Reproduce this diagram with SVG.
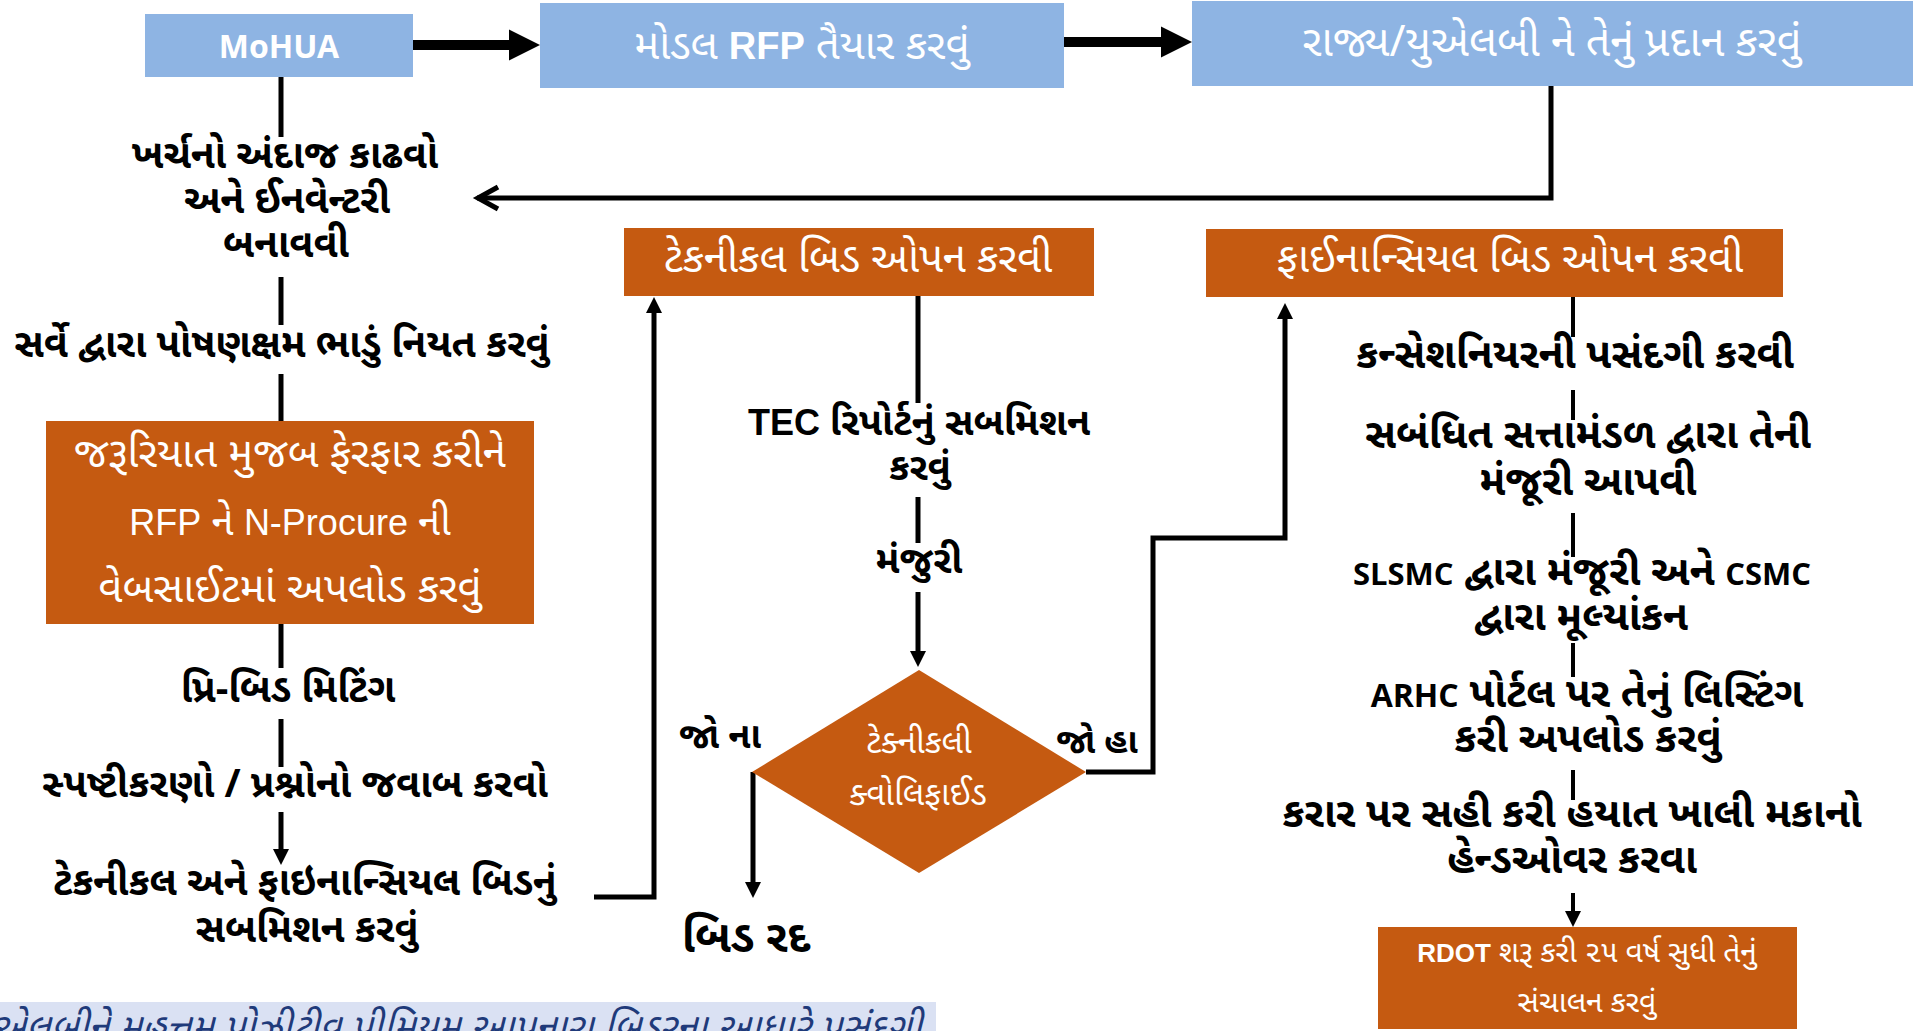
<svg xmlns="http://www.w3.org/2000/svg" width="1922" height="1031" viewBox="0 0 1922 1031">
<style>
.blue{fill:#8eb4e3}
.orange{fill:#c55a11}
.wt{fill:#ffffff;font-family:"Noto Sans Gujarati","Noto Sans","Liberation Sans",sans-serif;text-anchor:middle}
.bt{fill:#000000;font-family:"Noto Sans Gujarati","Noto Sans","Liberation Sans",sans-serif;text-anchor:middle;font-weight:bold}
.lat{font-family:"Liberation Sans",sans-serif}
.ln{stroke:#000;stroke-width:5;fill:none}
.ln4{stroke:#000;stroke-width:4;fill:none}
.big{stroke:#000;stroke-width:10;fill:none}
</style>
<defs>
<marker id="bigHead" markerUnits="userSpaceOnUse" markerWidth="32" markerHeight="32" refX="0" refY="15.5" orient="auto" overflow="visible">
<path d="M0,0 L31,15.5 L0,31 Z" fill="#000"/>
</marker>
<marker id="head" markerUnits="userSpaceOnUse" markerWidth="18" markerHeight="18" refX="1" refY="8" orient="auto" overflow="visible">
<path d="M0,0 L16,8 L0,16 Z" fill="#000"/>
</marker>
<marker id="chev" markerUnits="userSpaceOnUse" markerWidth="26" markerHeight="26" refX="1" refY="11" orient="auto" overflow="visible">
<path d="M-20,0 L0,11 L-20,22" fill="none" stroke="#000" stroke-width="5" stroke-linejoin="miter"/>
</marker>
</defs>
<rect width="1922" height="1031" fill="#ffffff"/>

<g id="connectors">
<line class="big" x1="413" y1="45" x2="509" y2="45" marker-end="url(#bigHead)"/>
<line class="big" x1="1064" y1="42" x2="1161" y2="42" marker-end="url(#bigHead)"/>
<polyline class="ln" points="1551,86 1551,198 477,198" marker-end="url(#chev)"/>
<line class="ln" x1="281" y1="77" x2="281" y2="137"/>
<line class="ln" x1="281" y1="277" x2="281" y2="325"/>
<line class="ln" x1="281" y1="374" x2="281" y2="421"/>
<line class="ln" x1="281" y1="624" x2="281" y2="668"/>
<line class="ln" x1="281" y1="719" x2="281" y2="767"/>
<line class="ln" x1="281" y1="812" x2="281" y2="850" marker-end="url(#head)"/>
<polyline class="ln" points="594,897 654,897 654,312" marker-end="url(#head)"/>
<line class="ln" x1="918" y1="296" x2="918" y2="403"/>
<line class="ln" x1="918" y1="497" x2="918" y2="543"/>
<line class="ln" x1="918" y1="592" x2="918" y2="652" marker-end="url(#head)"/>
<polyline class="ln" points="753,772 753,883" marker-end="url(#head)"/>
<polyline class="ln" points="1086,772 1153,772 1153,538 1285,538 1285,318" marker-end="url(#head)"/>
<line class="ln4" x1="1573" y1="297" x2="1573" y2="337"/>
<line class="ln4" x1="1573" y1="390" x2="1573" y2="420"/>
<line class="ln4" x1="1573" y1="513" x2="1573" y2="557"/>
<line class="ln4" x1="1573" y1="643" x2="1573" y2="677"/>
<line class="ln4" x1="1573" y1="770" x2="1573" y2="800"/>
<line class="ln4" x1="1573" y1="893" x2="1573" y2="912" marker-end="url(#head)"/>
</g>

<g id="mohua">
<rect class="blue" x="145" y="14" width="268" height="63"/>
<text class="wt" x="279" y="58" font-size="32" font-weight="bold">MoHUA</text>
</g>
<g id="model-rfp">
<rect class="blue" x="540" y="3" width="524" height="85"/>
<text class="wt" x="802" y="59" font-size="42">મોડલ <tspan font-weight="bold" class="lat" font-size="38">RFP</tspan> તૈયાર કરવું</text>
</g>
<g id="state-ulb">
<rect class="blue" x="1192" y="1" width="721" height="85"/>
<text class="wt" x="1552" y="56" font-size="43">રાજ્ય/યુએલબી ને તેનું પ્રદાન કરવું</text>
</g>
<g id="cost-estimate">
<text class="bt" font-size="39"><tspan x="285" y="168">ખર્ચનો અંદાજ કાઢવો</tspan><tspan x="287" y="213">અને ઈનવેન્ટરી</tspan><tspan x="286" y="257">બનાવવી</tspan></text>
</g>
<g id="survey-rent">
<text class="bt" x="282" y="357" font-size="39">સર્વે દ્વારા પોષણક્ષમ ભાડું નિયત કરવું</text>
</g>
<g id="rfp-upload">
<rect class="orange" x="46" y="421" width="488" height="203"/>
<text class="wt" x="290" y="467" font-size="42">જરૂરિયાત મુજબ ફેરફાર કરીને</text>
<text class="wt" x="290" y="535" font-size="40"><tspan class="lat" font-size="36">RFP</tspan> ને <tspan class="lat" font-size="36">N-Procure</tspan> ની</text>
<text class="wt" x="290" y="602" font-size="42">વેબસાઈટમાં અપલોડ કરવું</text>
</g>
<g id="pre-bid">
<text class="bt" x="288" y="702" font-size="39">પ્રિ-બિડ મિટિંગ</text>
</g>
<g id="clarifications">
<text class="bt" x="295" y="797" font-size="39">સ્પષ્ટીકરણો / પ્રશ્નોનો જવાબ કરવો</text>
</g>
<g id="bid-submission">
<text class="bt" font-size="39"><tspan x="305" y="895">ટેકનીકલ અને ફાઇનાન્સિયલ બિડનું</tspan><tspan x="307" y="942">સબમિશન કરવું</tspan></text>
</g>
<g id="tech-open">
<rect class="orange" x="624" y="228" width="470" height="68"/>
<text class="wt" x="858" y="272" font-size="42">ટેકનીકલ બિડ ઓપન કરવી</text>
</g>
<g id="tec-report">
<text class="bt" font-size="38" font-weight="normal"><tspan x="919" y="435"><tspan font-weight="bold" class="lat" font-size="36">TEC</tspan> રિપોર્ટનું સબમિશન</tspan><tspan x="920" y="480">કરવું</tspan></text>
</g>
<g id="approval">
<text class="bt" x="919" y="573" font-size="38" font-weight="normal">મંજુરી</text>
</g>
<g id="tech-qualified">
<polygon class="orange" points="919,670 1086,772 919,873 752,772"/>
<text class="wt" font-size="33"><tspan x="919" y="753">ટેક્નીકલી</tspan><tspan x="918" y="805">ક્વોલિફાઈડ</tspan></text>
</g>
<g id="label-no">
<text class="bt" x="720" y="748" font-size="36">જો ના</text>
</g>
<g id="label-yes">
<text class="bt" x="1097" y="753" font-size="35">જો હા</text>
</g>
<g id="bid-cancel">
<text class="bt" x="746" y="952" font-size="45" font-weight="normal">બિડ રદ</text>
</g>
<g id="fin-open">
<rect class="orange" x="1206" y="229" width="577" height="68"/>
<text class="wt" x="1510" y="272" font-size="42">ફાઈનાન્સિયલ બિડ ઓપન કરવી</text>
</g>
<g id="concessionaire">
<text class="bt" x="1575" y="368" font-size="41">કન્સેશનિયરની પસંદગી કરવી</text>
</g>
<g id="authority-approval">
<text class="bt" font-size="41"><tspan x="1588" y="448">સબંધિત સત્તામંડળ દ્વારા તેની</tspan><tspan x="1588" y="495">મંજૂરી આપવી</tspan></text>
</g>
<g id="slsmc">
<text class="bt" font-size="41"><tspan x="1582" y="585"><tspan font-size="31">SLSMC</tspan> દ્વારા મંજૂરી અને <tspan font-size="31">CSMC</tspan></tspan><tspan x="1581" y="630">દ્વારા મૂલ્યાંકન</tspan></text>
</g>
<g id="arhc">
<text class="bt" font-size="41"><tspan x="1587" y="707"><tspan font-size="32">ARHC</tspan> પોર્ટલ પર તેનું લિસ્ટિંગ</tspan><tspan x="1588" y="752">કરી અપલોડ કરવું</tspan></text>
</g>
<g id="handover">
<text class="bt" font-size="41"><tspan x="1572" y="827">કરાર પર સહી કરી હયાત ખાલી મકાનો</tspan><tspan x="1572" y="873">હેન્ડઓવર કરવા</tspan></text>
</g>
<g id="rdot">
<rect class="orange" x="1378" y="927" width="419" height="102"/>
<text class="wt" font-size="30"><tspan x="1587" y="962"><tspan font-weight="bold" class="lat" font-size="26">RDOT</tspan> શરૂ કરી ૨૫ વર્ષ સુધી તેનું</tspan><tspan x="1587" y="1012">સંચાલન કરવું</tspan></text>
</g>
<g id="selection-note">
<rect x="0" y="1002" width="936" height="29" fill="#dae1f3"/>
<text x="922" y="1040" font-size="38" font-style="italic" fill="#1f3a7a" text-anchor="end" font-family="Noto Sans Gujarati, Noto Sans, sans-serif">યુએલબીને મહત્તમ પોઝીટીવ પ્રીમિયમ આપનારા બિડરના આધારે પસંદગી</text>
</g>
</svg>
